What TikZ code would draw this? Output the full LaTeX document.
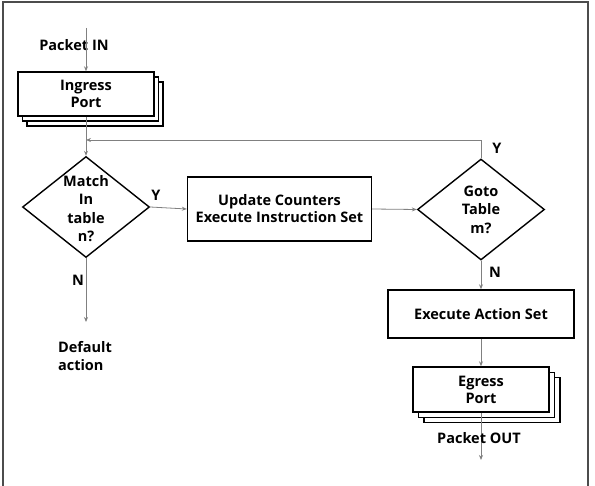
\documentclass[tikz,border=0pt]{standalone}
\usepackage{fontspec}
\setmainfont{Open Sans}
\usetikzlibrary{arrows.meta, positioning, shapes.geometric}

\begin{document}
\begin{tikzpicture}[x=1pt, y=-1pt, font=\fontsize{14.5}{18}\selectfont\bfseries]
    % Define styles
    \tikzstyle{block} = [rectangle, draw, line width=1.4pt, fill=white, inner sep=2pt, align=center]
    \tikzstyle{decision} = [diamond, draw, line width=1.4pt, inner sep=0pt, minimum width=127pt, minimum height=101pt]
    \tikzstyle{dtext} = [align=center, inner sep=0pt, font=\fontsize{14.5}{18.5}\selectfont\bfseries]
    \tikzstyle{line} = [draw, gray, line width=0.8pt, -{Stealth[length=5pt, width=4pt]}]

    \useasboundingbox (0,0) rectangle (595,486);
    % Frame
    \draw[line width=1.5pt, black!70] (3,492) -- (3,2) -- (588,2) -- (588,492);

    % Ingress port (stacked)
    \node[block, minimum width=136pt, minimum height=44pt] (ingress3) at (95,104) {};
    \node[block, minimum width=136pt, minimum height=44pt] (ingress2) at (90.5,99) {};
    \node[block, minimum width=136pt, minimum height=44pt] (ingress) at (86,94) {Ingress\\[-1pt]Port};
    \node (pktin) at (74,45) {Packet IN};
    \coordinate (start) at (86,28);

    % Match in table
    \node[decision] (match) at (86,207) {};
    \node[dtext] (matchtxt) at (86,208.5) {Match\\In\\table\\n?};
    \coordinate (loop) at (86,140);

    % Update counters
    \node[block, minimum width=184pt, minimum height=64pt] (update) at (279.5,209) {Update Counters\\[-1pt]Execute Instruction Set};

    % Goto table
    \node[decision] (goto) at (481,209.5) {};
    \node[dtext] (gototxt) at (481,209.5) {Goto\\Table\\m?};

    % Default action
    \node[align=left] (default) at (85,356) {Default\\action};
    \coordinate (defend) at (86,322);

    % Execute action set
    \node[block, minimum width=186pt, minimum height=48pt] (action) at (481,314) {Execute Action Set};

    % Egress port (stacked)
    \node[block, minimum width=136pt, minimum height=45pt] (egress3) at (492,400) {};
    \node[block, minimum width=136pt, minimum height=45pt] (egress2) at (486.5,395) {};
    \node[block, minimum width=136pt, minimum height=45pt] (egress) at (481,389.5) {Egress\\[-1pt]Port};
    \coordinate (outend) at (481,460);

    % Connections
    \draw[line] (start) -- (ingress.north);
    \draw[line] (ingress.south) -- (match.north);
    \draw[line] (goto.north) |- (loop);
    \draw[line] (match.east) -- (update.west);
    \draw[line] (update.east) -- (goto.west);
    \draw[line] (match.south) -- (defend);
    \draw[line] (goto.south) -- (action.north);
    \draw[line] (action.south) -- (egress.north);
    \draw[line] (egress.south) -- (outend);
    \node (pktout) at (479,438) {Packet OUT};

    % Branch labels
    \node (y1) at (156,195) {Y};
    \node (y2) at (497,148) {Y};
    \node (n1) at (78,280) {N};
    \node (n2) at (495,272) {N};
\end{tikzpicture}
\end{document}
